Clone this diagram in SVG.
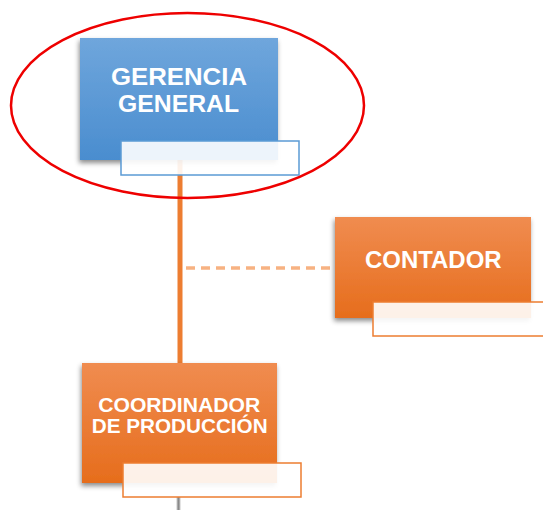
<svg xmlns="http://www.w3.org/2000/svg" width="543" height="510" viewBox="0 0 543 510">
<style>
.t{font-family:"Liberation Sans",Arial,sans-serif;font-weight:bold;fill:#ffffff;text-anchor:middle}
.lblB{fill:#ffffff;fill-opacity:0.9;stroke:#5b9bd5;stroke-width:1.5}
.lblO{fill:#ffffff;fill-opacity:0.9;stroke:#ed7d31;stroke-width:1.5}
</style>
<defs>
<linearGradient id="gb" x1="0" y1="0" x2="0" y2="1">
<stop offset="0" stop-color="#6fa6dc"/>
<stop offset="1" stop-color="#4a8dcf"/>
</linearGradient>
<linearGradient id="go" x1="0" y1="0" x2="0" y2="1">
<stop offset="0" stop-color="#f08c50"/>
<stop offset="1" stop-color="#e66d1c"/>
</linearGradient>
<linearGradient id="gg" x1="0" y1="0" x2="1" y2="0">
<stop offset="0" stop-color="#c8c8c8"/>
<stop offset="0.5" stop-color="#8a8a8a"/>
<stop offset="1" stop-color="#c8c8c8"/>
</linearGradient>
<filter id="sh" x="-20%" y="-20%" width="140%" height="150%">
<feDropShadow dx="-1" dy="3" stdDeviation="2.5" flood-color="#000" flood-opacity="0.45"/>
</filter>
</defs>
<g id="connectors">
<line x1="180" y1="160" x2="180" y2="363" stroke="#ed7d31" stroke-width="5"/>
<line x1="186" y1="268" x2="335" y2="268" stroke="#f7b282" stroke-width="3.5" stroke-dasharray="9,6"/>
<rect x="176.5" y="497" width="4" height="13" fill="url(#gg)"/>
</g>
<g id="gerencia-general">
<rect x="80" y="38" width="198" height="122" fill="url(#gb)" filter="url(#sh)"/>
<text class="t" x="179" y="85" font-size="24" textLength="136" lengthAdjust="spacingAndGlyphs">GERENCIA</text>
<text class="t" x="178.5" y="111.7" font-size="24" textLength="121" lengthAdjust="spacingAndGlyphs">GENERAL</text>
<rect class="lblB" x="121" y="141" width="178" height="34"/>
</g>
<g id="contador">
<rect x="335" y="217" width="196" height="101" fill="url(#go)" filter="url(#sh)"/>
<text class="t" x="433.3" y="268.3" font-size="23" textLength="136.7" lengthAdjust="spacingAndGlyphs">CONTADOR</text>
<rect class="lblO" x="373" y="302" width="175" height="34"/>
</g>
<g id="coordinador">
<rect x="82" y="363" width="195" height="120" fill="url(#go)" filter="url(#sh)"/>
<text class="t" x="179.2" y="412" font-size="19.5" textLength="162" lengthAdjust="spacingAndGlyphs">COORDINADOR</text>
<text class="t" x="179.7" y="433" font-size="19.5" textLength="176" lengthAdjust="spacingAndGlyphs">DE PRODUCCIÓN</text>
<rect class="lblO" x="123" y="463" width="178" height="34"/>
</g>
<ellipse cx="187.5" cy="105.5" rx="176.5" ry="92.5" fill="none" stroke="#ee0000" stroke-width="2.5"/>
</svg>
